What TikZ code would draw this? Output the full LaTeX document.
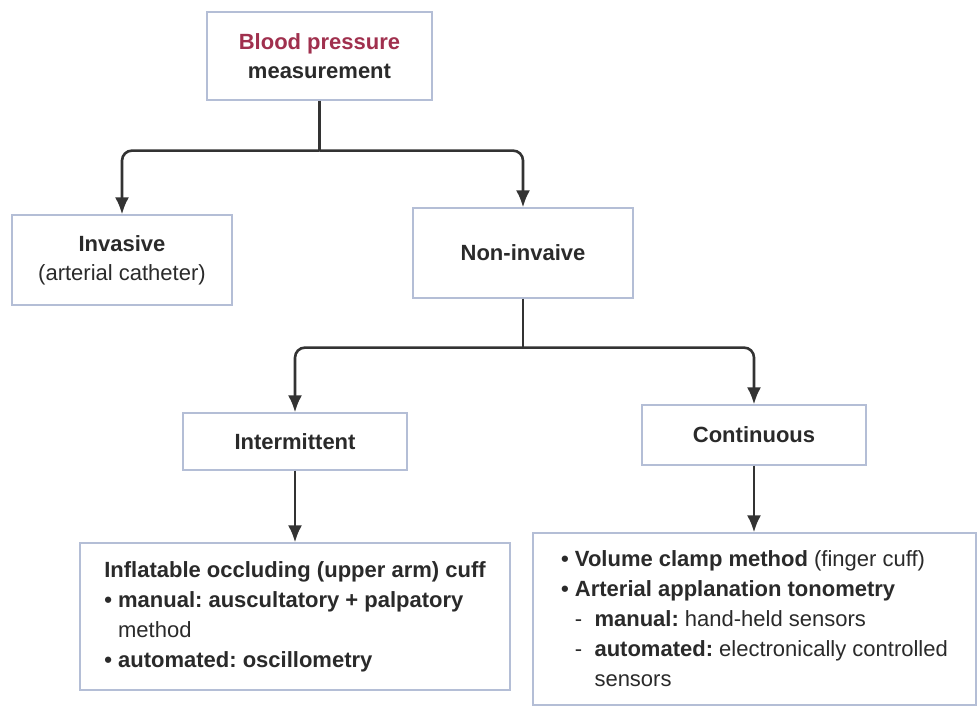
\documentclass[tikz,border=0pt]{standalone}
\usepackage{fontspec}
\setmainfont{Liberation Sans}
\usetikzlibrary{arrows.meta}
\definecolor{bpred}{HTML}{A0304E}
\definecolor{inkgray}{HTML}{2A2A2A}
\definecolor{boxline}{HTML}{B4BED6}
\definecolor{linegray}{HTML}{333333}
\frenchspacing
\begin{document}
\begin{tikzpicture}[x=1pt, y=-1pt,
    box/.style={draw=boxline, line width=1.2pt, fill=white, rectangle, inner sep=0pt,
        text=inkgray, align=center, font=\fontsize{22}{29}\selectfont\frenchspacing},
    list/.style={box, align=left, font=\fontsize{22}{30}\selectfont\frenchspacing},
    link/.style={draw=linegray, line width=2.6pt, rounded corners=10pt},
    >={Latex[length=17pt, width=14pt]}]
    \useasboundingbox (0,0) rectangle (979,707);

    \node[box, minimum width=225pt, minimum height=88pt] (bp) at (319.5, 56)
        {\textbf{\color{bpred}Blood pressure}\\\textbf{measurement}};
    \node[box, minimum width=220pt, minimum height=90pt] (inv) at (122, 260)
        {\textbf{Invasive}\\(arterial catheter)};
    \node[box, minimum width=220pt, minimum height=90pt] (noninv) at (523, 253)
        {\textbf{Non-invaive}};
    \node[box, minimum width=224pt, minimum height=57pt] (inter) at (295, 441.5)
        {\textbf{Intermittent}};
    \node[box, minimum width=224pt, minimum height=60pt] (cont) at (754, 435)
        {\textbf{Continuous}};
    \node[list, minimum width=430pt, minimum height=147pt] (cuff) at (295, 616.5)
        {\textbf{Inflatable occluding (upper arm) cuff}\\
         \textbf{• manual: auscultatory + palpatory}\\
         \hphantom{\textbf{• }}method\\
         \textbf{• automated: oscillometry}};
    \node[list, minimum width=443pt, minimum height=172pt] (clamp) at (754.5, 619)
        {\textbf{• Volume clamp method} (finger cuff)\\
         \textbf{• Arterial applanation tonometry}\\
         \hphantom{•}~-~~\textbf{manual:} hand-held sensors\\
         \hphantom{•}~-~~\textbf{automated:} electronically controlled\\
         \hphantom{•~-~~}sensors};

    \coordinate (j1) at ([yshift=-50pt]bp.south);
    \coordinate (j2) at ([yshift=-49pt]noninv.south);

    \draw[link] (bp.south) -- (j1);
    \draw[link, ->] (j1) -| (inv);
    \draw[link, ->] (j1) -| (noninv);
    \draw[link] (noninv.south) -- (j2);
    \draw[link, ->] (j2) -| (inter);
    \draw[link, ->] (j2) -| (cont);
    \draw[link, ->] (inter) -- (cuff);
    \draw[link, ->] (cont) -- (cont |- clamp.north);
\end{tikzpicture}
\end{document}
